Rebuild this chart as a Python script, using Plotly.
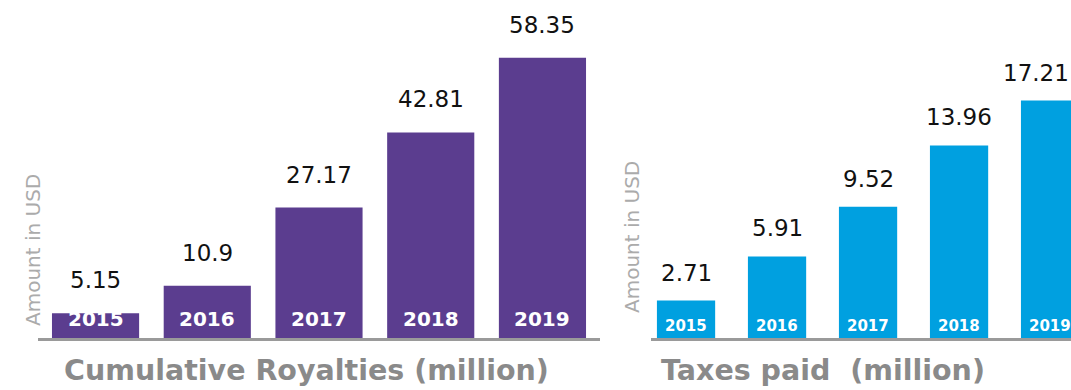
import plotly.graph_objects as go

# Data
years = ["2015", "2016", "2017", "2018", "2019"]
royalties = [5.15, 10.9, 27.17, 42.81, 58.35]
taxes = [2.71, 5.91, 9.52, 13.96, 17.21]
royalty_labels = ["5.15", "10.9", "27.17", "42.81", "58.35"]
tax_labels = ["2.71", "5.91", "9.52", "13.96", "17.21"]

W, H = 1071, 390
PURPLE = "#5b3d8f"
BLUE = "#00a0e0"
AXIS_GREY = "#9a9a9a"
TITLE_GREY = "#8a8a8a"
YTITLE_GREY = "#ababab"
FONT = "DejaVu Sans, sans-serif"

base_px = 52  # distance of baseline from bottom
idx = list(range(len(years)))

fig = go.Figure()
fig.add_trace(go.Bar(x=idx, y=royalties, marker=dict(color=PURPLE, line_width=0),
                     xaxis="x", yaxis="y", hoverinfo="skip", showlegend=False))
fig.add_trace(go.Bar(x=idx, y=taxes, marker=dict(color=BLUE, line_width=0),
                     xaxis="x2", yaxis="y2", hoverinfo="skip", showlegend=False,
                     width=0.64))

ydom = [base_px / H, 1]
fig.update_layout(
    width=W, height=H,
    margin=dict(l=0, r=0, t=0, b=0),
    paper_bgcolor="white", plot_bgcolor="white",
    bargap=0.22,
    xaxis=dict(domain=[38 / W, 600 / W], range=[-0.515, 4.515], showticklabels=False,
               showgrid=False, zeroline=False, showline=True, linecolor=AXIS_GREY,
               linewidth=3, ticks=""),
    yaxis=dict(domain=ydom, range=[0, 70.4], visible=False, fixedrange=True),
    xaxis2=dict(domain=[651 / W, 1], range=[-0.385, 4.23], showticklabels=False,
                showgrid=False, zeroline=False, showline=True, linecolor=AXIS_GREY,
                linewidth=3, ticks="", anchor="y2"),
    yaxis2=dict(domain=ydom, range=[0, 24.5], visible=False, anchor="x2", fixedrange=True),
)

ann = []
# value labels above bars and year labels inside bars
for i, (v, t) in enumerate(zip(royalties, royalty_labels)):
    ann.append(dict(x=i, y=v, xref="x", yref="y", text=t, showarrow=False,
                    yanchor="middle", yshift=33,
                    font=dict(family=FONT, size=23, color="#111111")))
    ann.append(dict(x=i, y=0, xref="x", yref="y", text="<b>%s</b>" % years[i],
                    showarrow=False, yanchor="middle", yshift=19,
                    font=dict(family=FONT, size=20, color="white")))
for i, (v, t) in enumerate(zip(taxes, tax_labels)):
    last = i == len(taxes) - 1
    label = dict(x=i, y=v, xref="x2", yref="y2", text=t, showarrow=False,
                 yanchor="middle", yshift=28,
                 font=dict(family=FONT, size=23, color="#111111"))
    if last:
        # keep the rightmost label inside the canvas
        label.update(x=1, xref="paper", xanchor="right")
    ann.append(label)
    ann.append(dict(x=i, y=0, xref="x2", yref="y2", text="<b>%s</b>" % years[i],
                    showarrow=False, yanchor="middle", yshift=12,
                    font=dict(family=FONT, size=15, color="white")))

# axis titles
ann.append(dict(x=33 / W, y=(H - 250) / H, xref="paper", yref="paper",
                text="Amount in USD", textangle=-90, showarrow=False,
                xanchor="center", yanchor="middle",
                font=dict(family=FONT, size=20, color=YTITLE_GREY)))
ann.append(dict(x=632 / W, y=(H - 237) / H, xref="paper", yref="paper",
                text="Amount in USD", textangle=-90, showarrow=False,
                xanchor="center", yanchor="middle",
                font=dict(family=FONT, size=20, color=YTITLE_GREY)))

# chart titles
ann.append(dict(x=306 / W, y=(H - 370) / H, xref="paper", yref="paper",
                text="<b>Cumulative Royalties (million)</b>", showarrow=False,
                xanchor="center", yanchor="middle",
                font=dict(family=FONT, size=28.5, color=TITLE_GREY)))
ann.append(dict(x=823 / W, y=(H - 370) / H, xref="paper", yref="paper",
                text="<b>Taxes paid\u00a0\u00a0(million)</b>", showarrow=False,
                xanchor="center", yanchor="middle",
                font=dict(family=FONT, size=28.5, color=TITLE_GREY)))

fig.update_layout(annotations=ann)
fig.write_html("out.html", config=dict(displayModeBar=False))
